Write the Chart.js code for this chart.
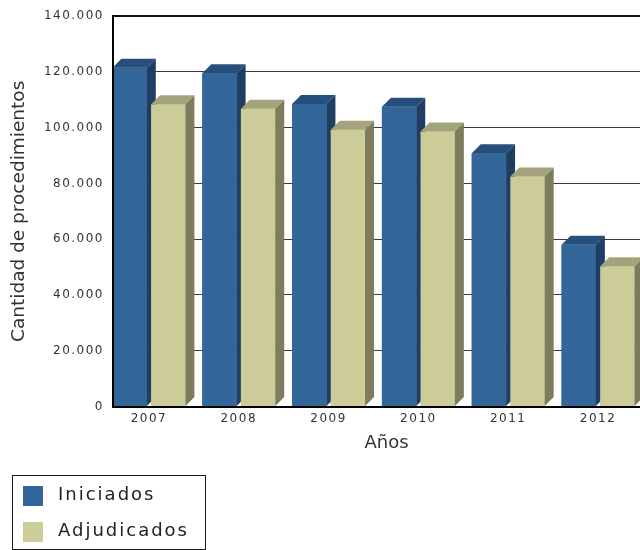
<!DOCTYPE html>
<html lang="es">
<head>
<meta charset="utf-8">
<title>Procedimientos iniciados y adjudicados</title>
<script src="https://cdn.jsdelivr.net/npm/chart.js@4/dist/chart.umd.min.js"></script>
<style>
    html, body { margin: 0; padding: 0; background: #fff; overflow: hidden; }
    #chart { display: block; }
</style>
</head>
<body>
<canvas id="chart" width="660" height="550"></canvas>
<script>
// Datos del gráfico
const anios = [2007, 2008, 2009, 2010, 2011, 2012];
const iniciados = [121500, 119500, 108500, 107500, 90800, 58000];
const adjudicados = [108400, 106800, 99300, 98600, 82500, 50300];
const yTicks = [0, 20000, 40000, 60000, 80000, 100000, 120000, 140000];

// Colores de las caras (frente, arriba, lado)
const caras = [
    { front: '#336699', top: '#264f7c', side: '#1e3f63' },
    { front: '#cccc99', top: '#a4a47c', side: '#7d7d5d' }
];
const DEPTH = 9;
const FONT = '"DejaVu Sans", Verdana, sans-serif';

document.addEventListener('DOMContentLoaded', function() {
    initChart();
});

function formatMiles(value) {
    return String(value).replace(/\B(?=(\d{3})+(?!\d))/g, '.');
}

// Caras 3D de las barras, dibujadas por categoría de izquierda a derecha
const bar3d = {
    id: 'bar3d',
    beforeDraw(chart) {
        chart.ctx.letterSpacing = '0px';
    },
    afterDatasetsDraw(chart) {
        const ctx = chart.ctx;
        const metas = chart.getSortedVisibleDatasetMetas();
        ctx.save();
        for (let i = 0; i < anios.length; i++) {
            metas.forEach(meta => {
                const bar = meta.data[i];
                if (!bar) return;
                const p = bar.getProps(['x', 'y', 'base', 'width'], true);
                const left = p.x - p.width / 2;
                const right = p.x + p.width / 2;
                const c = caras[meta.index];

                ctx.fillStyle = c.front;
                ctx.fillRect(left, p.y, p.width, p.base - p.y);

                ctx.fillStyle = c.top;
                ctx.beginPath();
                ctx.moveTo(left, p.y);
                ctx.lineTo(left + DEPTH, p.y - DEPTH);
                ctx.lineTo(right + DEPTH, p.y - DEPTH);
                ctx.lineTo(right, p.y);
                ctx.closePath();
                ctx.fill();

                ctx.fillStyle = c.side;
                ctx.beginPath();
                ctx.moveTo(right, p.y);
                ctx.lineTo(right + DEPTH, p.y - DEPTH);
                ctx.lineTo(right + DEPTH, p.base - DEPTH);
                ctx.lineTo(right, p.base);
                ctx.closePath();
                ctx.fill();
            });
        }
        ctx.restore();
        // etiquetas de los ejes con espaciado
        ctx.letterSpacing = '1.5px';
    },
    afterDraw(chart) {
        const ctx = chart.ctx;
        ctx.save();
        ctx.letterSpacing = '2px';
        // Leyenda
        ctx.strokeStyle = '#1a1a1a';
        ctx.lineWidth = 1;
        ctx.strokeRect(12.5, 475.5, 193, 74);
        ctx.font = '18px ' + FONT;
        ctx.textAlign = 'left';
        ctx.textBaseline = 'alphabetic';
        chart.data.datasets.forEach((ds, i) => {
            const y = 486 + i * 36;
            ctx.fillStyle = ds.backgroundColor;
            ctx.fillRect(23, y, 20, 20);
            ctx.fillStyle = '#222';
            ctx.fillText(ds.label, 58, y + 14);
        });
        ctx.restore();
        ctx.letterSpacing = '0px';
    }
};

function initChart() {
    const canvas = document.getElementById('chart');
    if (!canvas) return;

    new Chart(canvas.getContext('2d'), {
        type: 'bar',
        data: {
            labels: anios,
            datasets: [
                {
                    label: 'Iniciados',
                    data: iniciados,
                    backgroundColor: caras[0].front,
                    borderWidth: 0
                },
                {
                    label: 'Adjudicados',
                    data: adjudicados,
                    backgroundColor: caras[1].front,
                    borderWidth: 0
                }
            ]
        },
        options: {
            responsive: false,
            animation: false,
            categoryPercentage: 0.86,
            barPercentage: 0.889,
            layout: {
                padding: { top: 14, left: 0, right: 0, bottom: 89.5 }
            },
            plugins: {
                legend: { display: false },
                tooltip: { enabled: false }
            },
            scales: {
                x: {
                    type: 'linear',
                    offset: false,
                    min: anios[0] - 0.4,
                    max: anios[anios.length - 1] + 0.69,
                    afterBuildTicks: function(scale) {
                        scale.ticks = anios.map(a => ({ value: a }));
                    },
                    grid: { display: false, drawTicks: false, offset: false },
                    border: { display: true, color: '#000', width: 2, z: 1 },
                    ticks: {
                        z: 1,
                        padding: 5,
                        maxRotation: 0,
                        color: '#333',
                        font: { family: FONT, size: 12 },
                        callback: function(value) {
                            return String(value);
                        }
                    },
                    title: {
                        display: true,
                        text: 'Años',
                        color: '#333',
                        font: { family: FONT, size: 18 },
                        padding: { top: 1.5, bottom: 6.5 }
                    }
                },
                y: {
                    min: 0,
                    max: 140000,
                    afterFit: function(scale) {
                        scale.width = 113;
                    },
                    afterBuildTicks: function(scale) {
                        scale.ticks = yTicks.map(v => ({ value: v }));
                    },
                    grid: {
                        drawTicks: false,
                        color: ctx => ctx.tick && ctx.tick.value === 140000 ? '#111' : '#3a3a3a',
                        lineWidth: ctx => ctx.tick && ctx.tick.value === 140000 ? 2 : 1
                    },
                    border: { display: true, color: '#000', width: 2, z: 1 },
                    ticks: {
                        z: 1,
                        padding: 9,
                        color: '#333',
                        font: { family: FONT, size: 12 },
                        callback: function(value) {
                            return formatMiles(value);
                        }
                    },
                    title: {
                        display: true,
                        text: 'Cantidad de procedimientos',
                        color: '#333',
                        font: { family: FONT, size: 18.5 },
                        padding: { top: 8, bottom: 0 }
                    }
                }
            }
        },
        plugins: [bar3d]
    });
}
</script>
</body>
</html>
